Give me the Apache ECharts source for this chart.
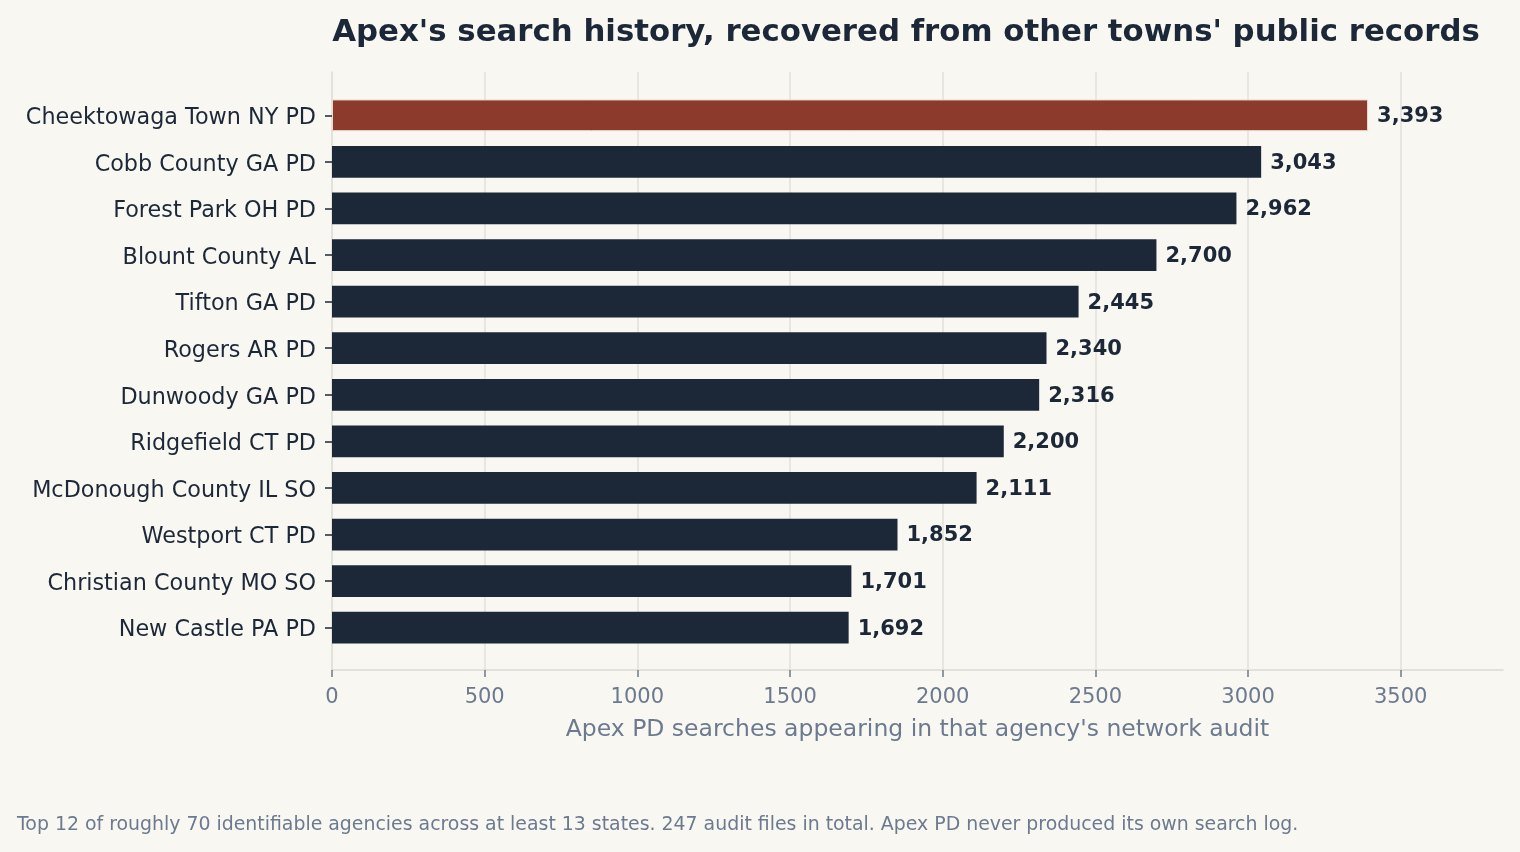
<!DOCTYPE html>
<html>
<head>
<meta charset="utf-8">
<script src="https://cdn.jsdelivr.net/npm/echarts@6/dist/echarts.min.js"></script>
<style>
  html, body { margin: 0; padding: 0; background: #f8f7f2; }
  #chart { width: 1520px; height: 852px; }
</style>
</head>
<body>
<div id="chart"></div>
<script>
// agencies, top to bottom
var agencies = [
    'Cheektowaga Town NY PD', 'Cobb County GA PD', 'Forest Park OH PD', 'Blount County AL',
    'Tifton GA PD', 'Rogers AR PD', 'Dunwoody GA PD', 'Ridgefield CT PD',
    'McDonough County IL SO', 'Westport CT PD', 'Christian County MO SO', 'New Castle PA PD'
];
var searches = [3393, 3043, 2962, 2700, 2445, 2340, 2316, 2200, 2111, 1852, 1701, 1692];
var highlightIndex = 0;
var xTicks = [0, 500, 1000, 1500, 2000, 2500, 3000, 3500];

var xMax = 3835;
var font = '"DejaVu Sans"';
var dark = '#1c2838';
var muted = '#6b7a8f';

var chart = echarts.init(document.getElementById('chart'));

var barData = searches.map(function (v, i) {
    return {
        value: v,
        itemStyle: i === highlightIndex
            ? { color: '#8b3a2b', borderColor: '#e9d9d1', borderWidth: 1 }
            : { color: dark }
    };
});

var option = {
    backgroundColor: '#f8f7f2',
    title: {
        text: "Apex's search history, recovered from other towns' public records",
        left: 901,
        textAlign: 'center',
        top: 12,
        textStyle: { fontFamily: font, fontSize: 30.8, fontWeight: 'bold', color: dark }
    },
    graphic: [{
        type: 'text',
        left: 17,
        top: 816,
        style: {
            text: 'Top 12 of roughly 70 identifiable agencies across at least 13 states. 247 audit files in total. Apex PD never produced its own search log.',
            fontFamily: font,
            fontSize: 18.9,
            fill: muted
        }
    }],
    grid: [
        // frame: spines + gridlines
        { left: 332, right: 17, top: 72, bottom: 182 },
        // bars
        { left: 332, right: 17, top: 92, bottom: 201 }
    ],
    xAxis: [{
        gridIndex: 0,
        type: 'value',
        min: 0,
        max: xMax,
        name: "Apex PD searches appearing in that agency's network audit",
        nameLocation: 'middle',
        nameGap: 48,
        nameTextStyle: { fontFamily: font, fontSize: 23.5, color: muted },
        axisLine: { show: true, lineStyle: { color: '#dcdad3', width: 1.5 } },
        axisTick: { show: true, length: 7, customValues: xTicks, lineStyle: { color: muted, width: 1.5 } },
        axisLabel: {
            fontFamily: font, fontSize: 21, color: muted, margin: 17,
            customValues: xTicks,
            formatter: function (v) { return String(v); }
        },
        splitLine: { show: false }
    }, {
        gridIndex: 1,
        type: 'value',
        min: 0,
        max: xMax,
        show: false
    }],
    yAxis: [{
        gridIndex: 0,
        type: 'value',
        min: 0,
        max: 1,
        axisLine: { show: true, lineStyle: { color: '#dcdad3', width: 1.5 } },
        axisTick: { show: false },
        axisLabel: { show: false },
        splitLine: { show: false }
    }, {
        gridIndex: 1,
        type: 'category',
        data: agencies,
        inverse: true,
        axisLine: { show: false },
        axisTick: { show: true, alignWithLabel: true, length: 7, lineStyle: { color: dark, width: 1.5 } },
        axisLabel: {
            margin: 16,
            formatter: function (v) { return '{n|' + v + '}'; },
            rich: {
                n: { fontFamily: font, fontSize: 22.3, color: dark, padding: [6, 0, 0, 0] }
            }
        }
    }],
    series: [{
        // vertical gridlines at the x ticks
        name: 'grid',
        type: 'line',
        xAxisIndex: 0,
        yAxisIndex: 0,
        data: [],
        silent: true,
        z: 0,
        markLine: {
            silent: true,
            z: 0,
            symbol: 'none',
            label: { show: false },
            lineStyle: { color: '#e3e1da', width: 1.5, type: 'solid' },
            data: xTicks.slice(1).map(function (t) { return { xAxis: t }; })
        }
    }, {
        name: 'searches',
        type: 'bar',
        xAxisIndex: 1,
        yAxisIndex: 1,
        barWidth: '68%',
        z: 10,
        data: barData,
        label: {
            show: true,
            position: 'right',
            distance: 9,
            formatter: function (p) { return '{v|' + p.value.toLocaleString('en-US') + '}'; },
            rich: {
                v: { fontFamily: font, fontSize: 21, fontWeight: 'bold', color: dark, padding: [3, 0, 0, 0] }
            }
        }
    }]
};

chart.setOption(option);
</script>
</body>
</html>
